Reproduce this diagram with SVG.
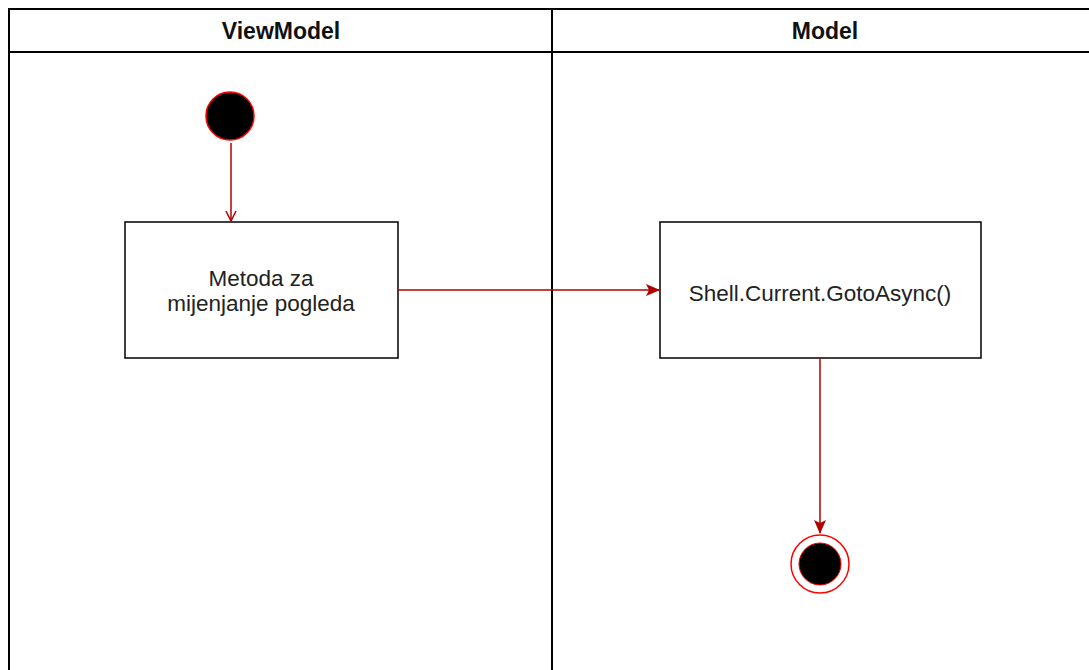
<svg xmlns="http://www.w3.org/2000/svg" width="1089" height="670" viewBox="0 0 1089 670">
<style>
.lane{fill:none;stroke:#000;stroke-width:2}
.hd{font-family:"Liberation Sans",Arial,sans-serif;font-size:23px;font-weight:bold;fill:#111;text-anchor:middle}
.box{fill:#fff;stroke:#000;stroke-width:1.5}
.tx{font-family:"Liberation Sans",Arial,sans-serif;font-size:22.5px;fill:#222;text-anchor:middle}
.edge{fill:none;stroke:#b20000;stroke-width:1.5}
</style>
<defs>
<marker id="open" viewBox="0 0 12 12" refX="11" refY="6" markerWidth="12" markerHeight="12" markerUnits="userSpaceOnUse" orient="auto">
<path d="M1,1 L11,6 L1,11" fill="none" stroke="#b20000" stroke-width="1.5"/>
</marker>
<marker id="fill" viewBox="0 0 14 12" refX="13" refY="6" markerWidth="14" markerHeight="12" markerUnits="userSpaceOnUse" orient="auto">
<path d="M0,0 L14,6 L0,12 L3,6 Z" fill="#b20000"/>
</marker>
</defs>
<rect width="1089" height="670" fill="#fff"/>
<g id="lanes">
<rect class="lane" x="9" y="9" width="1090" height="680"/>
<line class="lane" x1="9" y1="52" x2="1099" y2="52"/>
<line class="lane" x1="552" y1="9" x2="552" y2="680"/>
<text class="hd" x="281" y="39">ViewModel</text>
<text class="hd" x="825" y="39">Model</text>
</g>
<g id="start">
<circle cx="230" cy="116" r="24" fill="#000" stroke="#ff0000" stroke-width="1.5"/>
</g>
<g id="method">
<rect class="box" x="125" y="222" width="273" height="136"/>
<text class="tx" x="261" y="286">Metoda za</text>
<text class="tx" x="261" y="311">mijenjanje pogleda</text>
</g>
<g id="shell">
<rect class="box" x="660" y="222" width="321" height="136"/>
<text class="tx" x="820" y="301">Shell.Current.GotoAsync()</text>
</g>
<g id="end">
<circle cx="820" cy="564" r="29" fill="#fff" stroke="#ff0000" stroke-width="1.5"/>
<circle cx="820" cy="564" r="21" fill="#000" stroke="#ff0000" stroke-width="1"/>
</g>
<g id="connectors">
<path class="edge" d="M231,143 V221" marker-end="url(#open)"/>
<path class="edge" d="M398,290 H659" marker-end="url(#fill)"/>
<path class="edge" d="M820,358 V533" marker-end="url(#fill)"/>
</g>
</svg>
